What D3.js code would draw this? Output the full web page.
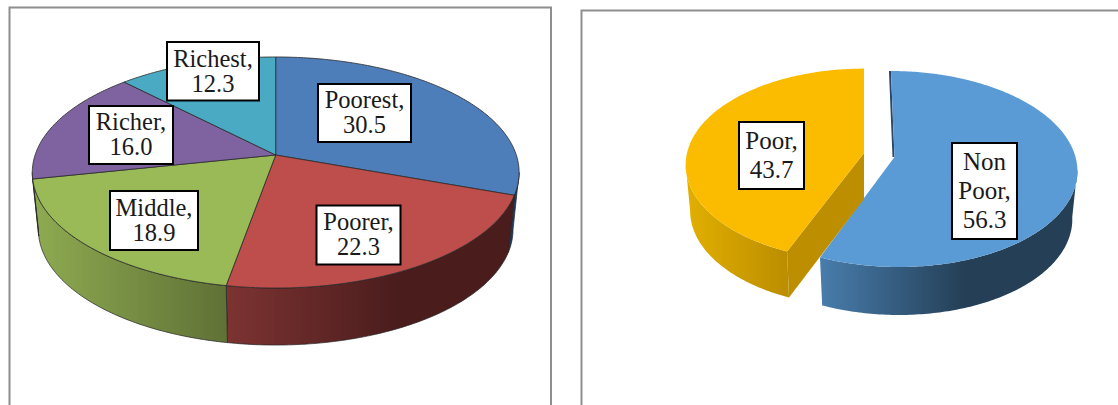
<!DOCTYPE html>
<html><head><meta charset="utf-8">
<script src="https://cdn.jsdelivr.net/npm/d3@7/dist/d3.min.js"></script>
<style>html,body{margin:0;padding:0;background:#fff;overflow:hidden}svg{display:block}
text{font-family:"Liberation Serif",serif;fill:#1a1a1a}</style></head>
<body><svg id="c" width="1118" height="405"></svg>
<script>
// ---- data ----
const quintiles = ["Poorest","Poorer","Middle","Richer","Richest"];
const quintileValues = [30.5,22.3,18.9,16.0,12.3];
const povertyGroups = ["Non Poor","Poor"];
const povertyValues = [56.3,43.7];

// ---- styling & layout ----
const quintileTop = ["#4D7EB9","#BD4E4B","#9ABA58","#7F63A1","#4AAAC4"];
const quintileWall = [["#1F3A5F","#1F3A5F"],["#7C3332","#4A1C1C"],["#8DA950","#5F7136"],["#5F4A78","#5F4A78"],["#38808F","#38808F"]];
const povertyTop = ["#5B9BD5","#FBBC00"];
const povertyWall = [["#487CAB","#243F56"],["#E0AE00","#BC8E00"]];

const svg = d3.select("#c");
const defs = svg.append("defs");
let gid = 0;

function projector(o){
  const sx = d3.scaleLinear().domain([0,1]).range([0,o.R]);
  return (ang,r,bottom)=>{
    const u=Math.sin(ang)*r, v=Math.cos(ang)*r, den=1+o.c*v;
    const s=bottom?o.shrink:1;
    return [o.cx+(sx(u)*s+(o.k||0)*v)/den, (o.a*v+o.cy)/den+(bottom?o.depth:0)];
  };
}
function arcPoints(p,a0,a1,bottom){
  const n=Math.max(2,Math.ceil((a1-a0)/0.015));
  return d3.range(n+1).map(i=>p(a0+(a1-a0)*i/n,1,bottom));
}
const line=d3.line();

function buildSlice(arc,o,wall,extent){
  const p=projector(o);
  const topArc=arcPoints(p,arc.startAngle,arc.endAngle,false);
  const id="w"+(gid++);
  const gr=defs.append("linearGradient").attr("id",id).attr("gradientUnits","userSpaceOnUse")
    .attr("x1",extent[0]).attr("x2",extent[1]).attr("y1",0).attr("y2",0);
  gr.append("stop").attr("offset",0).attr("stop-color",wall[0]);
  gr.append("stop").attr("offset",1).attr("stop-color",wall[1]);
  // only the front of the rim is visible: clamp to the silhouette angles
  const lim=Math.asin(o.c);
  const w0=Math.max(arc.startAngle,Math.PI/2+lim), w1=Math.min(arc.endAngle,3*Math.PI/2-lim);
  let wallPath=null;
  if(w1>w0){
    const t=arcPoints(p,w0,w1,false), b=arcPoints(p,w0,w1,true);
    wallPath=line(t.concat(b.reverse()))+"Z";
  }
  return {id,wallPath,topPath:line([p(0,0,false)].concat(topArc))+"Z",p};
}

const pie=d3.pie().sort(null).value(d=>d);
const frame=(x0,y0,x1)=>{
  const pts=x1?[[x0,405],[x0,y0],[x1,y0],[x1,405]]:[[x0,405],[x0,y0],[1118,y0]];
  svg.append("path").attr("d",line(pts)).attr("fill","none").attr("stroke","#8E8E8E").attr("stroke-width",2);
};
frame(9.5,7.5,551);
frame(581.5,10.5,null);

// ---- left pie ----
const leftO={cx:275.7,cy:155,R:240.6,a:-89.4,c:0.1515,depth:57,shrink:0.975};
const leftG=svg.append("g");
const leftArcs=pie(quintileValues);
const leftX=[[513,520],[227,400],[39,227],[39,125],[125,275]];
const ls=leftArcs.map((a,i)=>buildSlice(a,leftO,quintileWall[i],leftX[i]));
ls.forEach(s=>{ if(s.wallPath) leftG.append("path").attr("d",s.wallPath).attr("fill",`url(#${s.id})`).attr("stroke","#222").attr("stroke-width",0.7); });
ls.forEach((s,i)=>leftG.append("path").attr("d",s.topPath).attr("fill",quintileTop[i]).attr("stroke","#2a2a2a").attr("stroke-width",0.8).attr("stroke-linejoin","round"));

// ---- right pie ----
const rightArcs=pie(povertyValues);
const blueO={cx:894.5,cy:157,R:181,a:-77.3,c:0.1224,depth:48,shrink:0.972,k:-4};
const goldO={cx:864,cy:153,R:177,a:-76,c:0.1224,depth:46,shrink:0.975};
const rG=svg.append("g");
const gold=buildSlice(rightArcs[1],goldO,povertyWall[1],[690,786]);
const blue=buildSlice(rightArcs[0],blueO,povertyWall[0],[822,965]);
rG.append("path").attr("d",blue.wallPath).attr("fill",`url(#${blue.id})`);
rG.append("path").attr("d",line([blue.p(0,0,false),blue.p(0,1,false)])).attr("stroke","#2B4A6B").attr("stroke-width",2).attr("transform","translate(-1,0)");
rG.append("path").attr("d",blue.topPath).attr("fill",povertyTop[0]);
rG.append("path").attr("d",gold.wallPath).attr("fill",`url(#${gold.id})`);
const gp=gold.p, ga=rightArcs[1].startAngle;
rG.append("path").attr("d",line([gp(ga,0,false),gp(ga,0,true),gp(ga,1,true),gp(ga,1,false)])+"Z").attr("fill","#BC8E00");
rG.append("path").attr("d",gold.topPath).attr("fill",povertyTop[1]);

// ---- labels ----
const leftBoxes=[[318,84,93,58],[316.5,205.5,84,59],[110,191,88,59],[89,106,84,58],[167,42,92,58.5]];
const rightBoxes=[[952,143,65,96],[739,122,65,67]];
function label(b,lh,fs,lines){
  const g=svg.append("g");
  g.append("rect").attr("x",b[0]).attr("y",b[1]).attr("width",b[2]).attr("height",b[3])
    .attr("fill","#fff").attr("stroke","#000").attr("stroke-width",2);
  const n=lines.length, cx=b[0]+b[2]/2, midY=b[1]+b[3]/2;
  lines.forEach((t,i)=>g.append("text").attr("x",cx).attr("y",midY+(i-(n-1)/2)*lh+fs*0.3+0.5)
    .attr("text-anchor","middle").attr("font-size",fs).text(t));
}
quintiles.forEach((q,i)=>label(leftBoxes[i],25,24.5,[q+",",quintileValues[i].toFixed(1)]));
label(rightBoxes[0],29,25,["Non","Poor,",povertyValues[0].toFixed(1)]);
label(rightBoxes[1],29,25,["Poor,",povertyValues[1].toFixed(1)]);
</script></body></html>
